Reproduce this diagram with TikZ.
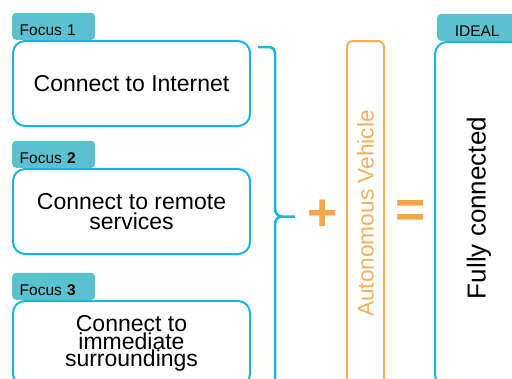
\documentclass[tikz,border=0pt]{standalone}
\usepackage{fontspec}
\setmainfont{Liberation Sans}
\usepackage{xcolor}
\usetikzlibrary{positioning}
\definecolor{cyanline}{HTML}{17B6E0}
\definecolor{tabfill}{HTML}{5BC1CF}
\definecolor{orng}{HTML}{F5A649}
\tikzset{box/.style={draw=cyanline,line width=2pt,rounded corners=12pt,minimum width=237pt,minimum height=85pt,inner sep=0pt,align=center,font=\fontsize{23}{20}\selectfont},
  tab/.style={fill=tabfill,rounded corners=4pt,minimum height=27pt,inner ysep=0pt,text height=19pt,text depth=0pt,font=\fontsize{15.5}{18}\selectfont},
  sym/.style={text=orng,inner sep=0pt,font=\fontsize{52}{52}\bfseries}}

\begin{document}
\begin{tikzpicture}[x=1pt,y=-1pt]
        \useasboundingbox (0,0) rectangle (512,378);
        \clip (0,0) rectangle (512,378);

        \node[box] (b1) at (131.5,83.5) {Connect to Internet};
        \node[box] (b2) at (131.5,211.5) {Connect to remote\\services};
        \node[box,font=\fontsize{23}{17.5}\selectfont] (b3) at (131.5,343.5) {Connect to\\immediate\\surroundings};

        \node[tab,text width=68pt,inner xsep=7.5pt,align=left,above right=0pt and 0pt of b1.north west] (f1) {Focus 1};
        \node[tab,text width=68pt,inner xsep=7.5pt,align=left,above right=0pt and 0pt of b2.north west] (f2) {Focus \textbf{2}};
        \node[tab,text width=68pt,inner xsep=7.5pt,align=left,above right=0pt and 0pt of b3.north west] (f3) {Focus \textbf{3}};

        \draw[cyanline,line width=2.5pt] (258,47) -- (270,47) to[out=0,in=90] (275,53) -- (275,209) to[out=-90,in=180] (282,216.5) -- (295,216.5);
        \draw[cyanline,line width=2.5pt] (282,216.5) to[out=180,in=90] (275,224) -- (275,400);

        \node[sym] (plus) at (323,215) {+};

        \node[draw=orng!90,line width=2pt,rounded corners=6pt,minimum width=37pt,minimum height=345pt,inner sep=0pt] (av) at (365.5,213.5) {};
        \node[rotate=90,text=orng!90,font=\fontsize{22.7}{24}\selectfont] (avt) at (av.center) {Autonomous Vehicle};

        \node[sym] (eq) at (411,214) {=};

        \node[draw=cyanline,line width=2pt,rounded corners=12pt,minimum width=88pt,minimum height=345pt,inner sep=0pt] (fc) at (479,214.5) {};
        \node[rotate=90,font=\fontsize{26}{28}\selectfont] (fct) at (479,208) {Fully connected};
        \node[tab,minimum width=80pt,inner xsep=0pt,above right=0pt and 3pt of fc.north west] (ideal) {IDEAL};
    \end{tikzpicture}
\end{document}
